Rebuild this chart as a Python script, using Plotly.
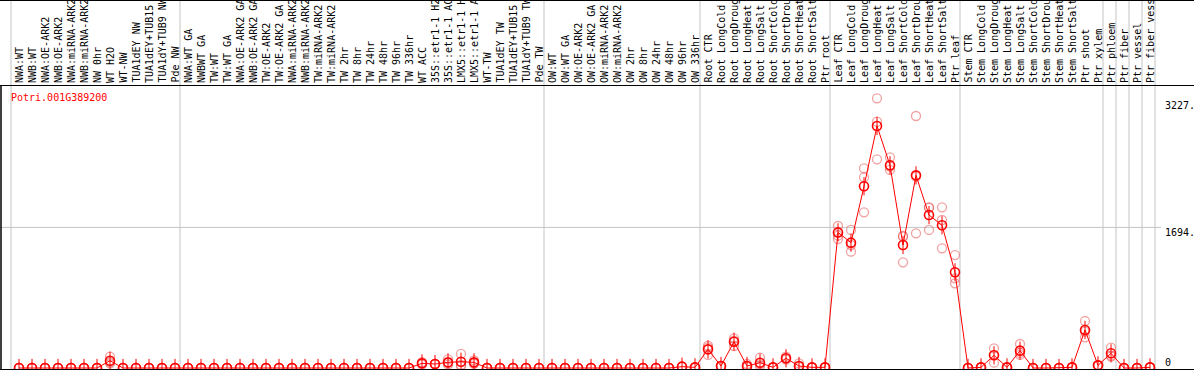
import plotly.graph_objects as go

W, H = 1194, 370

labels = [
    # group 1
    "NWA:WT", "NWB:WT", "NWA:OE-ARK2", "NWB:OE-ARK2", "NWA:miRNA-ARK2", "NWB:miRNA-ARK2",
    "NW 0hr", "WT H2O", "WT-NW", "TUA1dEY NW", "TUA1dEY+TUB15", "TUA1dY+TUB9 NW", "Pde NW",
    # group 2
    "NWA:WT GA", "NWBWT GA", "TW:WT", "TW:WT GA", "NWA:OE-ARK2 GA", "NWB:OE-ARK2 GA",
    "TW:OE-ARK2", "TW:OE-ARK2 GA", "NWA:miRNA-ARK2", "NWB:miRNA-ARK2", "TW:miRNA-ARK2",
    "TW:miRNA-ARK2", "TW 2hr", "TW 8hr", "TW 24hr", "TW 48hr", "TW 96hr", "TW 336hr",
    "WT ACC", "35S::etr1-1 H2O", "35S::etr1-1 ACC", "LMX5::etr1-1 H2O", "LMX5::etr1-1 ACC",
    "WT-TW", "TUA1dEY TW", "TUA1dEY+TUB15", "TUA1dY+TUB9 TW", "Pde TW",
    # group 3
    "OW:WT", "OW:WT GA", "OW:OE-ARK2", "OW:OE-ARK2 GA", "OW:miRNA-ARK2", "OW:miRNA-ARK2",
    "OW 2hr", "OW 8hr", "OW 24hr", "OW 48hr", "OW 96hr", "OW 336hr",
    # group 4
    "Root CTR", "Root LongCold", "Root LongDrought", "Root LongHeat", "Root LongSalt",
    "Root ShortCold", "Root ShortDrought", "Root ShortHeat", "Root ShortSalt", "Ptr root",
    # group 5
    "Leaf CTR", "Leaf LongCold", "Leaf LongDrought", "Leaf LongHeat", "Leaf LongSalt",
    "Leaf ShortCold", "Leaf ShortDrought", "Leaf ShortHeat", "Leaf ShortSalt", "Ptr leaf",
    # group 6
    "Stem CTR", "Stem LongCold", "Stem LongDrought", "Stem LongHeat", "Stem LongSalt",
    "Stem ShortCold", "Stem ShortDrought", "Stem ShortHeat", "Stem ShortSalt", "Ptr shoot",
    "Ptr xylem",
    # singles
    "Ptr phloem", "Ptr fiber", "Ptr vessel", "Ptr fiber vessel",
]

group_sizes = [13, 28, 12, 10, 10, 11, 1, 1, 1, 1]

mean_values = (
    [0, 0, 0, 0, 0, 0, 0, 88, 0, 0, 0, 0, 0]
    + [0] * 18 + [56, 48, 68, 76, 68] + [0] * 5
    + [0, 0, 0, 0, 0, 0, 0, 0, 0, 0, 16, 8]
    + [225, 24, 317, 24, 64, 8, 117, 24, 8, 8]
    + [1634, 1510, 2189, 2916, 2442, 1482, 2321, 1843, 1719, 1153]
    + [0, 8, 153, 8, 209, 0, 0, 0, 8, 458, 32]
    + [177, 0, 0, 8]
)

rep1 = (
    [0, 0, 0, 0, 0, 0, 0, 136, 0, 0, 0, 0, 0]
    + [0] * 18 + [70, 48, 104, 169, 93] + [0] * 5
    + [0, 0, 0, 0, 0, 0, 0, 0, 0, 0, 16, 8]
    + [269, 24, 357, 48, 124, 8, 136, 55, 8, 8]
    + [1711, 1663, 2406, 3249, 2538, 1582, 3036, 1936, 1936, 1361]
    + [0, 8, 237, 8, 289, 0, 0, 0, 8, 566, 32]
    + [245, 0, 0, 8]
)
rep2 = (
    [0, 0, 0, 0, 0, 0, 0, 56, 0, 0, 0, 0, 0]
    + [0] * 18 + [40, 48, 40, 36, 60] + [0] * 5
    + [0, 0, 0, 0, 0, 0, 0, 0, 0, 0, 16, 8]
    + [157, 24, 265, 24, 24, 8, 100, 24, 8, 8]
    + [1554, 1402, 2297, 2968, 2386, 1273, 1622, 1663, 1783, 1080]
    + [0, 8, 64, 8, 157, 0, 0, 0, 8, 369, 32]
    + [136, 0, 0, 8]
)
rep3 = (
    [0, 0, 0, 0, 0, 0, 0, 72, 0, 0, 0, 0, 0]
    + [0] * 18 + [58, 48, 60, 23, 51] + [0] * 5
    + [0, 0, 0, 0, 0, 0, 0, 0, 0, 0, 16, 8]
    + [249, 24, 329, 10, 44, 8, 115, 10, 8, 8]
    + [1594, 1482, 1876, 2514, 2426, 1591, 2305, 1930, 1442, 1020]
    + [0, 8, 158, 8, 181, 0, 0, 0, 8, 439, 32]
    + [150, 0, 0, 8]
)

gene_id = "Potri.001G389200"
y_tick_values = [0, 1694, 3227]
y_tick_labels = ["0", "1694.", "3227."]

# ---- pixel geometry helpers ----
X0, DX = 19, 13          # first item centre px, spacing px
Y0, SY = 368, 0.083      # zero baseline px, px per unit
LABEL_BOTTOM = 85
MAX_CHARS = 14           # the label strip only shows this many characters
FONT = "DejaVu Sans Mono"

xs = list(range(len(labels)))
x_range = [(0 - X0) / DX, (W - X0) / DX]
y_range = [-(H - Y0) / SY, Y0 / SY]

def py(px):
    return 1 - px / H

fig = go.Figure()

for reps in (rep1, rep2, rep3):
    fig.add_trace(go.Scatter(
        x=xs, y=reps, mode="markers",
        marker=dict(symbol="circle-open", size=9,
                    color="rgba(225,70,70,0.5)", line=dict(width=1.3)),
        hoverinfo="skip", showlegend=False, cliponaxis=False,
    ))

fig.add_trace(go.Scatter(
    x=xs, y=mean_values, mode="lines+markers",
    line=dict(color="#ff0000", width=1),
    marker=dict(symbol="circle-open", size=9, color="#ff0000", line=dict(width=1.6)),
    showlegend=False, cliponaxis=False,
))
# small vertical ticks on the mean markers
fig.add_trace(go.Scatter(
    x=xs, y=mean_values, mode="markers",
    marker=dict(symbol="line-ns-open", size=13, color="#ff0000", line=dict(width=1)),
    hoverinfo="skip", showlegend=False, cliponaxis=False,
))

shapes = []
b = 0
bounds = [0]
for g in group_sizes:
    b += g
    bounds.append(b)
for k in bounds:
    shapes.append(dict(type="line", xref="x", yref="paper", x0=k - 0.615, x1=k - 0.615,
                       y0=0, y1=1, line=dict(color="#c4c4c4", width=1), layer="below"))
shapes.append(dict(type="line", xref="paper", yref="y", x0=0, x1=1161 / W,
                   y0=y_tick_values[1], y1=y_tick_values[1],
                   line=dict(color="#c4c4c4", width=1), layer="below"))
for ypx in (0.5, LABEL_BOTTOM + 0.5, 369.5):
    shapes.append(dict(type="line", xref="paper", yref="paper", x0=0, x1=1,
                       y0=py(ypx), y1=py(ypx), line=dict(color="black", width=1)))
shapes.append(dict(type="line", xref="paper", yref="paper", x0=1 / W, x1=1 / W,
                   y0=py(LABEL_BOTTOM), y1=0, line=dict(color="black", width=1.5)))

annotations = []
for i, lab in enumerate(labels):
    annotations.append(dict(
        x=i, y=py(LABEL_BOTTOM - 1), xref="x", yref="paper", text=lab[:MAX_CHARS],
        textangle=-90, showarrow=False, xanchor="center", yanchor="bottom",
        font=dict(family=FONT, size=10, color="black"), borderpad=0,
    ))
for v, t in zip(y_tick_values, y_tick_labels):
    ypx = Y0 - v * SY
    if v == 0:
        ypx -= 6
    else:
        ypx += 5
    annotations.append(dict(
        x=1163 / W, y=py(ypx), xref="paper", yref="paper", text=t, showarrow=False,
        xanchor="left", yanchor="middle", font=dict(family=FONT, size=10, color="black"),
    ))
annotations.append(dict(
    x=9 / W, y=py(97), xref="paper", yref="paper", text=gene_id, showarrow=False,
    xanchor="left", yanchor="middle", font=dict(family=FONT, size=10, color="#ff0000"),
))

fig.update_layout(
    width=W, height=H, margin=dict(l=0, r=0, t=0, b=0),
    paper_bgcolor="white", plot_bgcolor="white",
    xaxis=dict(range=x_range, visible=False, fixedrange=True),
    yaxis=dict(range=y_range, visible=False, fixedrange=True),
    shapes=shapes, annotations=annotations,
)

fig.write_html("out.html", config={"displayModeBar": False})

# remove the browser's default body margin so the figure sits at the page origin
with open("out.html", "r", encoding="utf-8") as f:
    html = f.read()
html = html.replace("<head>", "<head><style>html,body{margin:0;padding:0;overflow:hidden;}</style>", 1)
with open("out.html", "w", encoding="utf-8") as f:
    f.write(html)
